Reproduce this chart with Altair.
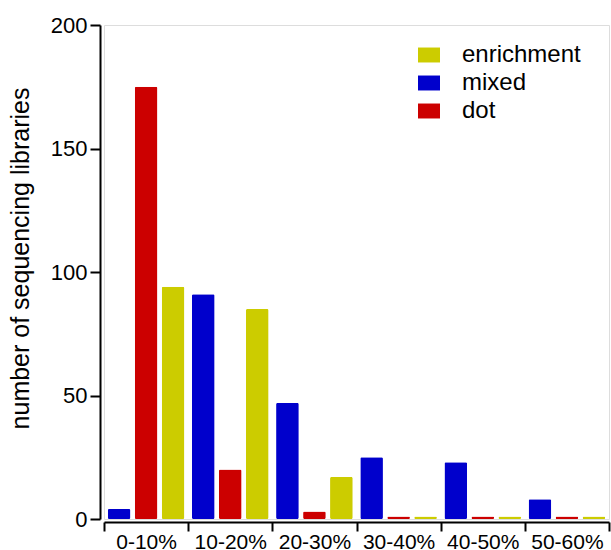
import altair as alt
import pandas as pd

categories = ["0-10%", "10-20%", "20-30%", "30-40%", "40-50%", "50-60%"]
mixed = [4, 91, 47, 25, 23, 8]
dot = [175, 20, 3, 1, 1, 1]
enrichment = [94, 85, 17, 1, 1, 1]

series_order = ["mixed", "dot", "enrichment"]
legend_order = ["enrichment", "mixed", "dot"]
colors = {"enrichment": "#CCCC00", "mixed": "#0000CC", "dot": "#CC0000"}

rows = []
for i, c in enumerate(categories):
    rows.append({"bin": c, "type": "mixed", "n": mixed[i]})
    rows.append({"bin": c, "type": "dot", "n": dot[i]})
    rows.append({"bin": c, "type": "enrichment", "n": enrichment[i]})
df = pd.DataFrame(rows)

font = "Liberation Sans"

chart = alt.Chart(df).mark_bar(cornerRadius=1.5).encode(
    x=alt.X("bin:N", sort=categories, title=None,
            scale=alt.Scale(paddingInner=0, paddingOuter=0),
            axis=alt.Axis(labelAngle=0, tickBand="extent", offset=3,
                          domainColor="black", domainWidth=2, tickColor="black",
                          tickWidth=2, tickSize=9, labelFont=font, labelFontSize=21,
                          labelColor="black", labelPadding=0)),
    xOffset=alt.XOffset("type:N", sort=series_order,
                        scale=alt.Scale(paddingInner=0.16, paddingOuter=0.14)),
    y=alt.Y("n:Q", title="number of sequencing libraries",
            scale=alt.Scale(domain=[0, 200], nice=False),
            axis=alt.Axis(values=[0, 50, 100, 150, 200], offset=4, grid=False,
                          domainColor="black", domainWidth=2, tickColor="black",
                          tickWidth=2, tickSize=10, labelFont=font, labelFontSize=22,
                          labelColor="black", labelPadding=3, titleFont=font,
                          titleFontSize=25, titleFontWeight="normal", titleColor="black",
                          titleAngle=270, titleAlign="center", titleBaseline="alphabetic",
                          titleX=-72, titleY=233)),
    color=alt.Color("type:N",
                    scale=alt.Scale(domain=legend_order,
                                    range=[colors[k] for k in legend_order]),
                    legend=alt.Legend(title=None, orient="none", legendX=313, legendY=18,
                                      symbolType="M-1,-0.68H1V0.68H-1Z", symbolSize=484,
                                      symbolStrokeWidth=0, symbolOpacity=1,
                                      labelFont=font, labelFontSize=24, labelColor="black",
                                      labelOffset=21, rowPadding=4, padding=0)),
).properties(
    width=505, height=494,
    autosize=alt.AutoSizeParams(type="none"),
    padding={"left": 104, "top": 25, "right": 2, "bottom": 31},
).configure_view(stroke=None).configure(background="white")

chart.save("out.html", embed_options={"renderer": "svg", "actions": False})
